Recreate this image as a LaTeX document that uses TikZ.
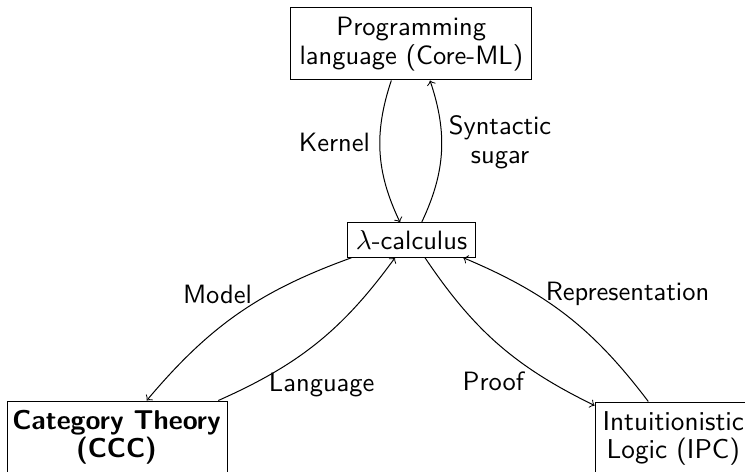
\documentclass[tikz,border=0pt]{standalone}
\usetikzlibrary{calc}
\begin{document}
\begin{tikzpicture}[x=0.4pt,y=-0.4pt,
  every node/.style={font=\sffamily\fontsize{10.6pt}{11.6pt}\selectfont},
  box/.style={draw,line width=0.4pt,inner sep=0pt,align=center},
  boxtext/.style={inner sep=0pt,align=center,
    font=\sffamily\fontsize{10.9pt}{11.2pt}\selectfont},
  edgelabel/.style={anchor=base,inner sep=0pt},
  link/.style={->,line width=0.4pt},
  vbend/.style={bend right=22},
  dbend/.style={bend right=15}]
\useasboundingbox (0,0) rectangle (745,472);

% boxes
\node[box,minimum width=96.3pt,minimum height=28.8pt] (prog) at (411.3,44)
  {Programming\\language (Core-ML)};
\node[box,minimum width=51.5pt,minimum height=13.8pt] (lam) at (411.5,240)
  {$\lambda$-calculus};
% the two lower boxes run past the bottom edge of the picture
\node[box,minimum width=88.2pt,minimum height=32pt] (cat) at (117.5,441) {};
\node[boxtext,font=\sffamily\bfseries\fontsize{10.9pt}{11.2pt}\selectfont] (cattext)
  at (116.5,437.5) {Category Theory\\(CCC)};
\node[box,minimum width=62.6pt,minimum height=32pt] (ipc) at (673.3,442) {};
\node[boxtext] (ipctext) at (673.3,438.5) {Intuitionistic\\Logic (IPC)};

% connectors
\draw[link] ($(prog.south)+(-20,0)$) to[vbend] ($(lam.north)+(-11.5,0)$);
\draw[link] ($(lam.north)+(10.2,0)$) to[vbend] ($(prog.south)+(18.7,0)$);
\draw[link] ($(lam.south)+(-60,0)$) to[dbend] ($(cat.north)+(29.2,0)$);
\draw[link] ($(cat.north)+(100.8,0)$) to[dbend] ($(lam.south)+(-16.5,0)$);
\draw[link] ($(lam.south)+(13.5,0)$) to[dbend] ($(ipc.north west)+(0,4)$);
\draw[link] ($(ipc.north)+(-25,0)$) to[dbend] ($(lam.south)+(51.8,0)$);

% labels
\node[edgelabel] (lkernel) at (334.5,151.7) {Kernel};
\node[align=center,inner sep=0pt] (lsugar) at (500,142.3) {Syntactic\\sugar};
\node[edgelabel] (lmodel) at (217.5,303) {Model};
\node[edgelabel] (llang) at (321.7,391.7) {Language};
\node[edgelabel] (lproof) at (493.3,390) {Proof};
\node[edgelabel] (lrep) at (627.5,300) {Representation};
\end{tikzpicture}
\end{document}
